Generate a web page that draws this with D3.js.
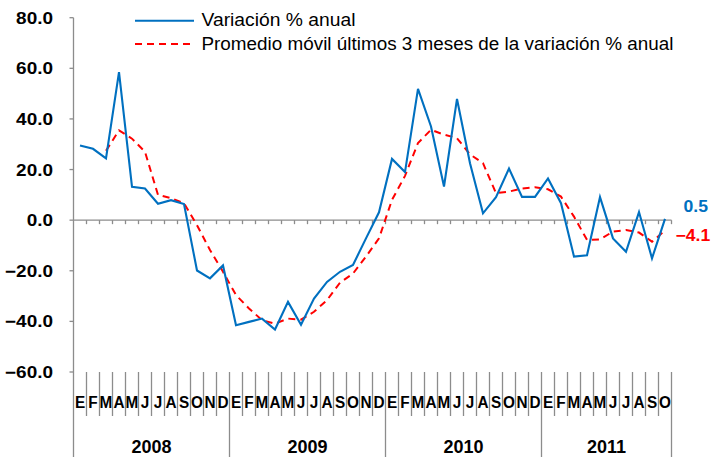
<!DOCTYPE html>
<html><head><meta charset="utf-8">
<script src="https://cdn.jsdelivr.net/npm/d3@7"></script>
<style>body{margin:0;background:#fff}svg{display:block}text{font-family:"Liberation Sans",Arial,sans-serif}</style>
</head><body>
<script>
const months = ["E","F","M","A","M","J","J","A","S","O","N","D"];
const years = ["2008","2009","2010","2011"];
const monthsPerYear = [12,12,12,10];
const variacion = [29.5,28.2,24.4,58.5,13.2,12.5,6.5,7.9,6.4,-19.9,-23.0,-17.9,
  -41.5,-40.2,-38.9,-43.2,-32.3,-41.3,-31.0,-24.4,-20.4,-17.7,-7.2,3.1,
  24.2,19.0,51.9,37.0,13.3,47.9,22.5,2.7,9.1,20.4,9.2,9.2,
  16.5,6.7,-14.4,-13.9,9.1,-7.2,-12.5,3.2,-15.1,0.5];
const promedio = [null,null,27.4,35.5,32.2,27.0,10.0,8.7,6.7,-2.0,-11.8,-20.4,
  -29.6,-34.9,-39.5,-40.9,-38.9,-39.3,-36.2,-31.6,-24.7,-21.1,-14.4,-7.2,
  8.0,17.5,30.5,35.7,33.8,32.4,26.0,22.5,10.7,11.3,12.5,13.0,
  12.2,9.3,1.4,-7.8,-7.6,-4.5,-3.9,-4.9,-8.5,-4.1];
const yTicks = [80,60,40,20,0,-20,-40,-60];
const legendLabels = ["Variación % anual","Promedio móvil últimos 3 meses de la variación % anual"];

const W=711,H=457;
const svg=d3.select("body").append("svg").attr("width",W).attr("height",H);
const cats=[];
years.forEach((yr,k)=>{for(let m=0;m<monthsPerYear[k];m++)cats.push(yr+"-"+m);});
const x=d3.scaleBand().domain(cats).range([73.5,73.5+46*13]);
const y=d3.scaleLinear().domain([-60,80]).range([372,17.7]);
const gray="#8c8c8c", blue="#0070C0", red="#FF0000";
const cx=i=>x(cats[i])+x.bandwidth()/2;

function stext(px,py,str,opts){
  const g=svg.append("g").attr("transform",`translate(${px},${py}) scale(${opts.sx||1},1)`);
  return g.append("text").attr("text-anchor",opts.anchor||"start")
    .attr("font-size",opts.size).attr("font-weight",opts.weight||"normal")
    .attr("fill",opts.fill||"#000").text(str);
}

// y axis
svg.append("line").attr("x1",73.5).attr("x2",73.5).attr("y1",y(80)).attr("y2",H).attr("stroke",gray).attr("stroke-width",1.3);
yTicks.forEach(v=>{
  svg.append("line").attr("x1",69.5).attr("x2",73.5).attr("y1",y(v)).attr("y2",y(v)).attr("stroke",gray).attr("stroke-width",1.3);
  stext(53,y(v)+6,d3.format(".1f")(v),{anchor:"end",size:16.5,weight:"bold",sx:1.15});
});
// zero line with ticks
const x0=x.range()[0], x1=x.range()[1];
svg.append("line").attr("x1",x0).attr("x2",x1).attr("y1",y(0)).attr("y2",y(0)).attr("stroke",gray).attr("stroke-width",1.3);
for(let i=1;i<=46;i++){
  const bx=x0+i*x.step();
  svg.append("line").attr("x1",bx).attr("x2",bx).attr("y1",y(0)).attr("y2",y(0)+4).attr("stroke",gray).attr("stroke-width",1.3);
}
// category axis lines
let yearStarts=[0]; monthsPerYear.reduce((a,b)=>{yearStarts.push(a+b);return a+b;},0);
for(let i=1;i<=46;i++){
  const bx=x0+i*x.step();
  const isYear=yearStarts.includes(i);
  svg.append("line").attr("x1",bx).attr("x2",bx).attr("y1",372).attr("y2",isYear?H:416).attr("stroke",gray).attr("stroke-width",1.3);
}
// month labels
cats.forEach((c,i)=>{
  const m=+c.split("-")[1];
  stext(cx(i),407.5,months[m],{anchor:"middle",size:16.5,weight:"bold",sx:0.93});
});
// year labels
years.forEach((yr,k)=>{
  const a=x0+yearStarts[k]*x.step(), b=x0+yearStarts[k+1]*x.step();
  stext((a+b)/2,452.5,yr,{anchor:"middle",size:18,weight:"bold"});
});
// lines
const lineGen=d3.line().defined(d=>d!=null).x((d,i)=>cx(i)).y(d=>y(d));
svg.append("path").datum(promedio).attr("d",lineGen).attr("fill","none").attr("stroke",red).attr("stroke-width",2).attr("stroke-dasharray","7,5");
svg.append("path").datum(variacion).attr("d",lineGen).attr("fill","none").attr("stroke",blue).attr("stroke-width",2.1);
// end labels
stext(683.5,212,d3.format(".1f")(variacion[45]),{size:16,weight:"bold",fill:blue,sx:1.1});
stext(675.5,240.5,d3.format(".1f")(promedio[45]),{size:16,weight:"bold",fill:red,sx:1.1});
// legend
svg.append("line").attr("x1",135).attr("x2",194).attr("y1",20.7).attr("y2",20.7).attr("stroke",blue).attr("stroke-width",2);
svg.append("line").attr("x1",135).attr("x2",194).attr("y1",44).attr("y2",44).attr("stroke",red).attr("stroke-width",2).attr("stroke-dasharray","7,5");
svg.append("text").attr("x",201.5).attr("y",26.3).attr("font-size",17.5).attr("textLength",154).attr("lengthAdjust","spacingAndGlyphs").text(legendLabels[0]);
svg.append("text").attr("x",201.5).attr("y",50).attr("font-size",17.5).attr("textLength",472).attr("lengthAdjust","spacingAndGlyphs").text(legendLabels[1]);
</script>
</body></html>
